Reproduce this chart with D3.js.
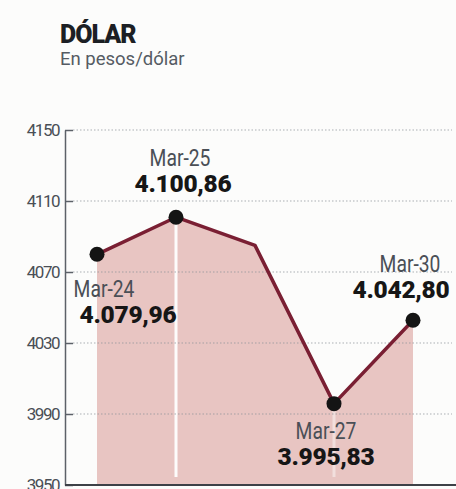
<!DOCTYPE html>
<html>
<head>
<meta charset="utf-8">
<script src="https://cdn.jsdelivr.net/npm/d3@7"></script>
<style>
  body { margin: 0; background: #fcfcfb; }
  svg { display: block; font-family: Roboto, 'Open Sans', sans-serif; }
</style>
</head>
<body>
<div id="chart"></div>
<script>
const dates = ['Mar-24', 'Mar-25', 'Mar-26', 'Mar-27', 'Mar-30']
const values = [4079.96, 4100.86, 4085, 3995.83, 4042.80]
const valueLabels = ['4.079,96', '4.100,86', '', '3.995,83', '4.042,80']
const yTicks = [3950, 3990, 4030, 4070, 4110, 4150]

const data = dates.map((d, i) => ({ date: d, value: values[i], label: valueLabels[i] }))

const width = 456
const height = 489

// where the labels sit around each point (value baseline offset, month above it)
const labelPos = {
  'Mar-24': { anchor: 'middle', dx: 31, dy: 69, mdx: 7 },
  'Mar-25': { anchor: 'middle', dx: 7, dy: -25, mdx: 4 },
  'Mar-27': { anchor: 'middle', dx: -8, dy: 61, mdx: -8 },
  'Mar-30': { anchor: 'middle', dx: -12, dy: -22, mdx: -3 }
}

const svg = d3.select('#chart')
  .append('svg')
  .attr('width', width)
  .attr('height', height)

const x = d3.scalePoint()
  .domain(dates)
  .range([97, 413])

const y = d3.scaleLinear()
  .domain([3950, 4150])
  .range([485, 130])

// title
svg.append('text')
  .attr('x', 60)
  .attr('y', 43)
  .attr('font-size', '25px')
  .attr('font-weight', 900)
  .attr('letter-spacing', '-1px')
  .attr('fill', '#1c1f24')
  .text('DÓLAR')

svg.append('text')
  .attr('x', 60)
  .attr('y', 65)
  .attr('font-size', '18.5px')
  .attr('fill', '#555b63')
  .text('En pesos/dólar')

// area
const area = d3.area()
  .x(d => x(d.date))
  .y0(y(3950))
  .y1(d => y(d.value))

svg.append('path')
  .datum(data)
  .attr('fill', '#e8c5c2')
  .attr('d', area)

// light creases under a couple of points
svg.selectAll('.crease')
  .data([data[1], data[3]])
  .enter().append('line')
  .attr('class', 'crease')
  .attr('x1', d => x(d.date))
  .attr('x2', d => x(d.date))
  .attr('y1', d => y(d.value))
  .attr('y2', y(3950) - 8)
  .attr('stroke', '#ffffff')
  .attr('stroke-width', 3)
  .attr('opacity', (d, i) => i === 0 ? 0.95 : 0.45)

// gridlines
svg.selectAll('.grid')
  .data(yTicks.filter(t => t !== 3950))
  .enter().append('line')
  .attr('class', 'grid')
  .attr('x1', 73)
  .attr('x2', 452)
  .attr('y1', d => y(d))
  .attr('y2', d => y(d))
  .attr('stroke', '#8a8f96')
  .attr('stroke-width', 1)
  .attr('stroke-dasharray', '1.5 2')
  .attr('opacity', 0.7)

// y axis
const yAxis = svg.append('g')
  .attr('transform', 'translate(65,0)')
  .call(d3.axisLeft(y)
    .tickValues(yTicks)
    .tickSize(-8)
    .tickSizeOuter(0)
    .tickPadding(6)
    .tickFormat(d3.format('d')))

yAxis.select('.domain').attr('stroke', '#5c6168').attr('stroke-width', 1.5)
yAxis.selectAll('.tick line').attr('stroke', '#5c6168').attr('stroke-width', 1.5)
yAxis.selectAll('.tick text')
  .attr('font-size', '17px')
  .attr('letter-spacing', '-1.5px')
  .attr('fill', '#4a4f56')
  .attr('font-family', 'Roboto, sans-serif')

// bottom baseline
svg.append('line')
  .attr('x1', 65)
  .attr('x2', width)
  .attr('y1', y(3950))
  .attr('y2', y(3950))
  .attr('stroke', '#3d4147')
  .attr('stroke-width', 2)

// line
const line = d3.line()
  .x(d => x(d.date))
  .y(d => y(d.value))

svg.append('path')
  .datum(data)
  .attr('fill', 'none')
  .attr('stroke', '#7a1f33')
  .attr('stroke-width', 3.5)
  .attr('stroke-linejoin', 'round')
  .attr('d', line)

svg.selectAll('.point')
  .data(data.filter(d => d.label !== ''))
  .enter().append('circle')
  .attr('class', 'point')
  .attr('cx', d => x(d.date))
  .attr('cy', d => y(d.value))
  .attr('r', 7.5)
  .attr('fill', '#141414')

// labels
const labeled = data.filter(d => labelPos[d.date])

svg.selectAll('.val-label')
  .data(labeled)
  .enter().append('text')
  .attr('class', 'val-label')
  .attr('x', d => x(d.date) + labelPos[d.date].dx)
  .attr('y', d => y(d.value) + labelPos[d.date].dy)
  .attr('text-anchor', d => labelPos[d.date].anchor)
  .attr('font-size', '24.5px')
  .attr('font-weight', 900)
  .attr('letter-spacing', '-0.3px')
  .attr('fill', '#161616')
  .text(d => d.label)

svg.selectAll('.date-label')
  .data(labeled)
  .enter().append('text')
  .attr('class', 'date-label')
  .attr('transform', d => `translate(${x(d.date) + labelPos[d.date].mdx},${y(d.value) + labelPos[d.date].dy - 26}) scale(0.84,1)`)
  .attr('text-anchor', 'middle')
  .attr('font-size', '23px')
  .attr('fill', '#4a4f56')
  .text(d => d.date)
</script>
</body>
</html>
